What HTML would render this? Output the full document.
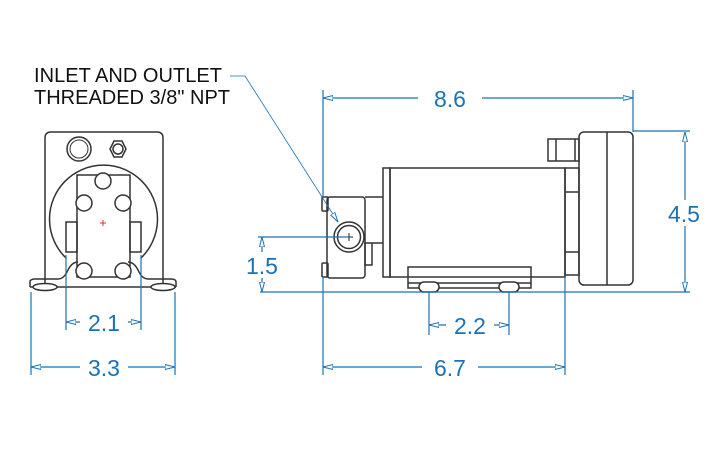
<!DOCTYPE html><html><head><style>body{margin:0;background:#fff}svg{display:block}</style></head><body>
<svg width="720" height="450" viewBox="0 0 720 450" xmlns="http://www.w3.org/2000/svg">
<defs><marker id="a" viewBox="0 0 10 6" refX="10" refY="3" markerWidth="10" markerHeight="6" orient="auto-start-reverse" markerUnits="userSpaceOnUse"><path d="M0,0.5 L10,3 L0,5.5 Z" fill="#fff" stroke="#1a72b5" stroke-width="1"/></marker></defs>
<g font-family="Liberation Sans, sans-serif" font-size="20" fill="#111">
<text x="34" y="82" textLength="188">INLET AND OUTLET</text><text x="34" y="104" textLength="196">THREADED 3/8" NPT</text>
</g>
<g fill="none" stroke="#333" stroke-width="1.5">
<path d="M45,287 V138 Q45,132 51,132 H157 Q163,132 163,138 V287"/>
<path d="M30,287 H176"/>
<path d="M30,287 V282 Q30,279 35,279 H58 Q64,279 68,270 Q72,262 78,262"/>
<path d="M176,287 V282 Q176,279 171,279 H148 Q142,279 138,270 Q134,262 128,262"/>
<ellipse cx="45" cy="287" rx="12" ry="3.5" fill="#fff"/><ellipse cx="163" cy="287" rx="12" ry="3.5" fill="#fff"/>
<circle cx="79" cy="149" r="12"/><circle cx="79" cy="149" r="9" stroke-width="1"/>
<path d="M110,149 L114,141 H122 L126,149 L122,157 H114 Z"/><circle cx="118" cy="149" r="5"/>
<path d="M66,258 A54,54 0 1 1 141,258" />
<rect x="77" y="175" width="53" height="102"/>
<rect x="66" y="222" width="11" height="30"/><rect x="130" y="222" width="11" height="30"/>
<g fill="#fff"><circle cx="103" cy="181" r="8"/><circle cx="84" cy="203" r="8"/><circle cx="123" cy="203" r="8"/><circle cx="84" cy="271" r="8"/><circle cx="123" cy="271" r="8"/></g>
<rect x="327" y="197" width="38" height="81" rx="3"/>
<rect x="322" y="197" width="6" height="14" rx="1"/><rect x="322" y="263" width="6" height="14" rx="1"/>
<circle cx="349" cy="237" r="15"/><circle cx="349" cy="237" r="11.5"/>
<path d="M365,197 H383 M365,243 H383 M365,243 V265 H372 V243"/>
<rect x="383" y="168" width="7" height="109"/>
<rect x="390" y="168" width="175" height="109"/>
<rect x="408" y="267" width="123" height="21"/><path d="M408,283 H531"/>
<rect x="419" y="282" width="20" height="10" rx="5" fill="#fff"/><rect x="499" y="282" width="20" height="10" rx="5" fill="#fff"/>
<rect x="565" y="168" width="14" height="107"/><path d="M565,192 H579 M565,252 H579"/>
<rect x="579" y="132" width="54" height="153" rx="5"/><path d="M607,132 V285"/>
<path d="M548,139 H579 V161 H548 Z M556,139 V161 M575,139 V161"/>
</g>
<path d="M345,237 H353 M349,233 V241" stroke="#222" stroke-width="1"/>
<path d="M100,223 H106 M103,220 V226" stroke="#d33" stroke-width="1"/>
<g fill="none" stroke="#1a72b5" stroke-width="1.2">
<path d="M230,76 H245 L338,222" stroke-width="0.8" marker-end="url(#a)"/>
<path d="M323,90 V197 M633,90 V132 M633,131 H690 M260,292 H690 M258,237 H349 M323,277 V375 M565,277 V375 M429,292 V335 M509,292 V335 M31,292 V375 M175,292 V375 M66,255 V330 M141,255 V330"/>
<path d="M323,98 H633" marker-start="url(#a)" marker-end="url(#a)"/>
<path d="M685,132 V292" marker-start="url(#a)" marker-end="url(#a)"/>
<path d="M262,237 V292" marker-start="url(#a)" marker-end="url(#a)"/>
<path d="M323,367 H565" marker-start="url(#a)" marker-end="url(#a)"/>
<path d="M429,325 H509" marker-start="url(#a)" marker-end="url(#a)"/>
<path d="M31,367 H175" marker-start="url(#a)" marker-end="url(#a)"/>
<path d="M66,322 H141" marker-start="url(#a)" marker-end="url(#a)"/>
</g>
<g font-family="Liberation Sans, sans-serif" font-size="23" fill="#1a72b5" text-anchor="middle">
<rect x="418" y="86" width="64" height="24" fill="#fff"/><text x="450" y="107">8.6</text>
<rect x="663" y="200" width="44" height="26" fill="#fff"/><text x="684" y="222">4.5</text>
<rect x="241" y="252" width="42" height="26" fill="#fff"/><text x="262" y="274">1.5</text>
<rect x="422" y="355" width="56" height="24" fill="#fff"/><text x="450" y="376">6.7</text>
<rect x="446" y="313" width="48" height="24" fill="#fff"/><text x="470" y="334">2.2</text>
<rect x="80" y="355" width="48" height="24" fill="#fff"/><text x="104" y="376">3.3</text>
<rect x="80" y="310" width="48" height="24" fill="#fff"/><text x="104" y="331">2.1</text>
</g>
</svg></body></html>
